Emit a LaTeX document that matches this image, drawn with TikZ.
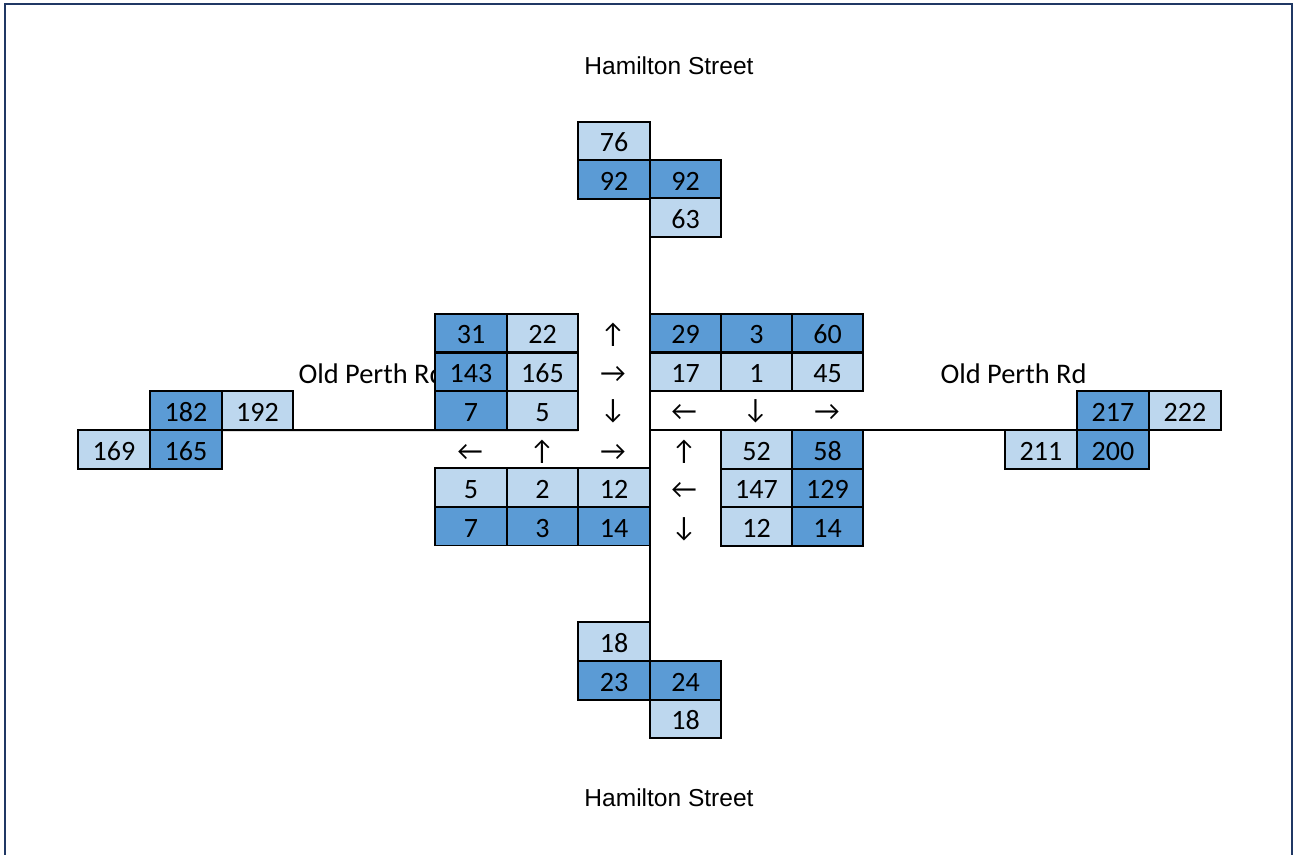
\documentclass[tikz,border=0pt]{standalone}
\usepackage{fontspec}
\setmainfont{Carlito}
\newfontfamily\arialfont{Liberation Sans}
\definecolor{darkcell}{HTML}{5B9BD5}
\definecolor{lightcell}{HTML}{BDD7EE}
\definecolor{framecol}{HTML}{203864}
\begin{document}
\begin{tikzpicture}[x=0.75pt,y=-0.75pt,
  cellbase/.style={draw=black, line width=1.4pt, inner sep=0pt, outer sep=0pt,
    minimum width=53.7pt, minimum height=29pt,
    text height=16.3pt, text depth=0pt,
    font=\fontsize{21}{25}\selectfont},
  dk/.style={cellbase, fill=darkcell},
  lt/.style={cellbase, fill=lightcell},
  arr/.style={inner sep=0pt, font=\fontsize{21}{25}\selectfont},
  street/.style={inner sep=0pt, anchor=base, font=\arialfont\fontsize{18.4}{22}\selectfont},
  road/.style={inner sep=0pt, anchor=base, font=\fontsize{21.3}{25}\selectfont},
  roadline/.style={draw=black, line width=1.4pt}]
\useasboundingbox (0,0) rectangle (1296,854);
\draw[framecol, line width=1.6pt] (5,4) rectangle (1292,880);

% labels
\node[street] (hamT) at (669,74.3) {Hamilton Street};
\node[street] (hamB) at (669,806.7) {Hamilton Street};
\node[road] (oprL) at (371.5,383) {Old Perth Rd};
\node[road] (oprR) at (1013.5,383) {Old Perth Rd};

% top
\node[lt] (t76) at (614,141) {76};
\node[dk] (t92a) at (614,179.5) {92};
\node[dk] (t92b) at (685.5,179.5) {92};
\node[lt] (t63) at (685.5,217.5) {63};

% bottom
\node[lt] (b18a) at (614,641.5) {18};
\node[dk] (b23) at (614,680.5) {23};
\node[dk] (b24) at (685.5,680.5) {24};
\node[lt] (b18b) at (685.5,719) {18};

% far left
\node[dk] (l182) at (186,410.5) {182};
\node[lt] (l192) at (257.5,410.5) {192};
\node[lt] (l169) at (114,449.5) {169};
\node[dk] (l165) at (186,449.5) {165};

% far right
\node[dk] (r217) at (1113,410.5) {217};
\node[lt] (r222) at (1185,410.5) {222};
\node[lt] (r211) at (1041,449.5) {211};
\node[dk] (r200) at (1113,449.5) {200};

% top-left block
\node[dk] (a31) at (471,333) {31};
\node[lt] (a22) at (542.5,333) {22};
\node[dk] (a143) at (471,372) {143};
\node[lt] (a165) at (542.5,372) {165};
\node[dk] (a7) at (471,410.8) {7};
\node[lt] (a5) at (542.5,410.8) {5};

% top-right block
\node[dk] (p29) at (685.5,333) {29};
\node[dk] (p3) at (756.5,333) {3};
\node[dk] (p60) at (827.5,333) {60};
\node[lt] (p17) at (685.5,372) {17};
\node[lt] (p1) at (756.5,372) {1};
\node[lt] (p45) at (827.5,372) {45};

% bottom-left block
\node[lt] (c5) at (471,487.5) {5};
\node[lt] (c2) at (542.5,487.5) {2};
\node[lt] (c12) at (614,487.5) {12};
\node[dk] (c7) at (471,526.2) {7};
\node[dk] (c3) at (542.5,526.2) {3};
\node[dk] (c14) at (614,526.2) {14};

% bottom-right block
\node[lt] (d52) at (756.5,449.3) {52};
\node[dk] (d58) at (827.5,449.3) {58};
\node[lt] (d147) at (756.5,488) {147};
\node[dk] (d129) at (827.5,488) {129};
\node[lt] (d12) at (756.5,526.5) {12};
\node[dk] (d14) at (827.5,526.5) {14};

% road lines
\draw[roadline] (t63.south west) -- (t63.south west |- b18a.north east);
\draw[roadline] (l165.north east) -- (a5.south east);
\draw[roadline] (t63.south west |- r211.north west) -- (r211.north west);

% arrows
\node[arr] (ar1) at (613,334.5) {↑};
\node[arr] (ar2) at (613,374) {→};
\node[arr] (ar3) at (613,411.5) {↓};
\node[arr] (ar4) at (684,412) {←};
\node[arr] (ar5) at (755.5,411.5) {↓};
\node[arr] (ar6) at (827,412) {→};
\node[arr] (ar7) at (470,452) {←};
\node[arr] (ar8) at (542,451.5) {↑};
\node[arr] (ar9) at (613,452) {→};
\node[arr] (ar10) at (684,451.5) {↑};
\node[arr] (ar11) at (684,490) {←};
\node[arr] (ar12) at (684,529) {↓};
\end{tikzpicture}
\end{document}
